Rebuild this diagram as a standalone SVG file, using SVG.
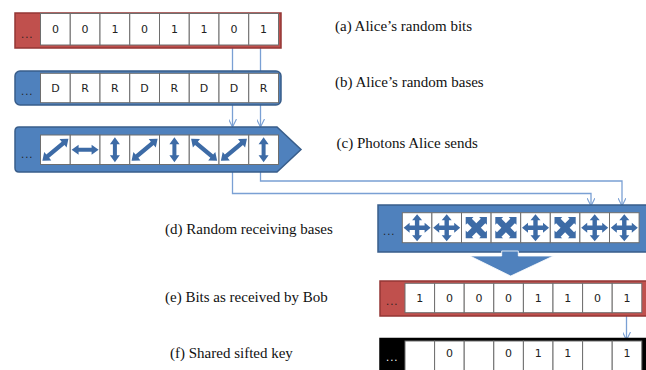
<svg xmlns="http://www.w3.org/2000/svg" width="646" height="370" viewBox="0 0 646 370">
  <style>
    .red { fill: #c0504d; stroke: #943634; stroke-width: 1.5; }
    .blue { fill: #4f81bd; stroke: #385d8a; stroke-width: 1.5; }
    .blk { fill: #000; stroke: #000; stroke-width: 1.5; }
    .cell { fill: #fff; stroke: #6e6e6e; stroke-width: 1; }
    .val { font-family: "DejaVu Sans", Verdana, sans-serif; font-size: 11px; fill: #222; text-anchor: middle; }
    .dots { font-family: "DejaVu Sans", Verdana, sans-serif; font-size: 10px; fill: #222; letter-spacing: 1px; }
    .lbl { font-family: "Liberation Serif", "Times New Roman", serif; font-size: 15px; fill: #111; }
    .ph { fill: #3d6ba6; }
    .conn { fill: none; stroke: #7aa0d4; stroke-width: 1.3; }
  </style>
  <defs>
    <marker id="arr" viewBox="0 0 10 10" refX="10" refY="5" markerWidth="8" markerHeight="8" markerUnits="userSpaceOnUse" orient="auto">
      <path d="M0,0 L10,5 L0,10" fill="none" stroke="#7aa0d4" stroke-width="1.4"/>
    </marker>
    <!-- double-headed block arrows -->
    <path id="dbl" d="M0,-12.5 L5,-5.5 L2,-5.5 L2,5.5 L5,5.5 L0,12.5 L-5,5.5 L-2,5.5 L-2,-5.5 L-5,-5.5 Z"/>
    <path id="dblH" d="M0,-13.5 L5,-6.5 L2,-6.5 L2,6.5 L5,6.5 L0,13.5 L-5,6.5 L-2,6.5 L-2,-6.5 L-5,-6.5 Z"/>
    <path id="dblD" d="M0,-17 L5.5,-10 L2.2,-10 L2.2,10 L5.5,10 L0,17 L-5.5,10 L-2.2,10 L-2.2,-10 L-5.5,-10 Z"/>
    <!-- four-way cross arrows -->
    <path id="plus" d="M0,-13.5 L5,-7.5 L2.2,-7.5 L2.2,-2.2 L7.5,-2.2 L7.5,-5 L13.5,0 L7.5,5 L7.5,2.2 L2.2,2.2 L2.2,7.5 L5,7.5 L0,13.5 L-5,7.5 L-2.2,7.5 L-2.2,2.2 L-7.5,2.2 L-7.5,5 L-13.5,0 L-7.5,-5 L-7.5,-2.2 L-2.2,-2.2 L-2.2,-7.5 L-5,-7.5 Z"/>
    <path id="cross" d="M0,-15 L5.5,-9.5 L3.2,-9.5 L3.2,-3.2 L9.5,-3.2 L9.5,-5.5 L15,0 L9.5,5.5 L9.5,3.2 L3.2,3.2 L3.2,9.5 L5.5,9.5 L0,15 L-5.5,9.5 L-3.2,9.5 L-3.2,3.2 L-9.5,3.2 L-9.5,5.5 L-15,0 L-9.5,-5.5 L-9.5,-3.2 L-3.2,-3.2 L-3.2,-9.5 L-5.5,-9.5 Z" transform="rotate(45)"/>
  </defs>

  <!-- connectors -->
  <g id="connectors">
    <path class="conn" d="M232.5,48 V71"/>
    <path class="conn" d="M260.5,48 V71"/>
    <path class="conn" d="M232.5,105 V127" marker-end="url(#arr)"/>
    <path class="conn" d="M260.5,105 V127" marker-end="url(#arr)"/>
    <path class="conn" d="M232.5,172 V193.5 H591 V206" marker-end="url(#arr)"/>
    <path class="conn" d="M260.5,172 V181 H622 V206" marker-end="url(#arr)"/>
    <path class="conn" d="M626.5,316 V340" marker-end="url(#arr)"/>
  </g>

  <!-- (a) Alice's random bits -->
  <g id="bits-a">
    <rect class="red" x="15" y="13" width="266" height="35"/>
    <text class="dots" x="21" y="38">...</text>
    <rect class="cell" x="40.5" y="13.5" width="29.75" height="31.5"/>
    <rect class="cell" x="70.25" y="13.5" width="29.75" height="31.5"/>
    <rect class="cell" x="100" y="13.5" width="29.75" height="31.5"/>
    <rect class="cell" x="129.75" y="13.5" width="29.75" height="31.5"/>
    <rect class="cell" x="159.5" y="13.5" width="29.75" height="31.5"/>
    <rect class="cell" x="189.25" y="13.5" width="29.75" height="31.5"/>
    <rect class="cell" x="219" y="13.5" width="29.75" height="31.5"/>
    <rect class="cell" x="248.75" y="13.5" width="29.75" height="31.5"/>
    <text class="val" x="55.4" y="33">0</text>
    <text class="val" x="85.1" y="33">0</text>
    <text class="val" x="114.9" y="33">1</text>
    <text class="val" x="144.6" y="33">0</text>
    <text class="val" x="174.4" y="33">1</text>
    <text class="val" x="204.1" y="33">1</text>
    <text class="val" x="233.9" y="33">0</text>
    <text class="val" x="263.6" y="33">1</text>
  </g>
  <text class="lbl" x="335" y="31">(a) Alice’s random bits</text>

  <!-- (b) Alice's random bases -->
  <g id="bases-b">
    <rect class="blue" x="15" y="71" width="266" height="34" rx="5"/>
    <text class="dots" x="21" y="95">...</text>
    <rect class="cell" x="40.5" y="73.3" width="29.75" height="29.4"/>
    <rect class="cell" x="70.25" y="73.3" width="29.75" height="29.4"/>
    <rect class="cell" x="100" y="73.3" width="29.75" height="29.4"/>
    <rect class="cell" x="129.75" y="73.3" width="29.75" height="29.4"/>
    <rect class="cell" x="159.5" y="73.3" width="29.75" height="29.4"/>
    <rect class="cell" x="189.25" y="73.3" width="29.75" height="29.4"/>
    <rect class="cell" x="219" y="73.3" width="29.75" height="29.4"/>
    <rect class="cell" x="248.75" y="73.3" width="29.75" height="29.4"/>
    <text class="val" x="55.4" y="92">D</text>
    <text class="val" x="85.1" y="92">R</text>
    <text class="val" x="114.9" y="92">R</text>
    <text class="val" x="144.6" y="92">D</text>
    <text class="val" x="174.4" y="92">R</text>
    <text class="val" x="204.1" y="92">D</text>
    <text class="val" x="233.9" y="92">D</text>
    <text class="val" x="263.6" y="92">R</text>
  </g>
  <text class="lbl" x="335" y="87">(b) Alice’s random bases</text>

  <!-- (c) Photons Alice sends -->
  <g id="photons-c">
    <path class="blue" d="M19,127 H277 L301,149.5 L277,172 H19 Q15,172 15,168 V131 Q15,127 19,127 Z"/>
    <text class="dots" x="21" y="158">...</text>
    <rect class="cell" x="40.5" y="135" width="29.75" height="29.5"/>
    <rect class="cell" x="70.25" y="135" width="29.75" height="29.5"/>
    <rect class="cell" x="100" y="135" width="29.75" height="29.5"/>
    <rect class="cell" x="129.75" y="135" width="29.75" height="29.5"/>
    <rect class="cell" x="159.5" y="135" width="29.75" height="29.5"/>
    <rect class="cell" x="189.25" y="135" width="29.75" height="29.5"/>
    <rect class="cell" x="219" y="135" width="29.75" height="29.5"/>
    <rect class="cell" x="248.75" y="135" width="29.75" height="29.5"/>
    <use href="#dblD" class="ph" transform="translate(55.4,149.75) rotate(50)"/>
    <use href="#dblH" class="ph" transform="translate(85.1,149.75) rotate(90)"/>
    <use href="#dbl" class="ph" transform="translate(114.9,149.75)"/>
    <use href="#dblD" class="ph" transform="translate(144.6,149.75) rotate(50)"/>
    <use href="#dbl" class="ph" transform="translate(174.4,149.75)"/>
    <use href="#dblD" class="ph" transform="translate(204.1,149.75) rotate(-50)"/>
    <use href="#dblD" class="ph" transform="translate(233.9,149.75) rotate(50)"/>
    <use href="#dbl" class="ph" transform="translate(263.6,149.75)"/>
  </g>
  <text class="lbl" x="336.5" y="148">(c) Photons Alice sends</text>

  <!-- (d) Random receiving bases -->
  <g id="bases-d">
    <rect class="blue" x="378" y="205" width="270" height="47"/>
    <text class="dots" x="383" y="235">...</text>
    <rect class="cell" x="402.3" y="212.7" width="29.6" height="30"/>
    <rect class="cell" x="431.9" y="212.7" width="29.6" height="30"/>
    <rect class="cell" x="461.5" y="212.7" width="29.6" height="30"/>
    <rect class="cell" x="491.1" y="212.7" width="29.6" height="30"/>
    <rect class="cell" x="520.7" y="212.7" width="29.6" height="30"/>
    <rect class="cell" x="550.3" y="212.7" width="29.6" height="30"/>
    <rect class="cell" x="579.9" y="212.7" width="29.6" height="30"/>
    <rect class="cell" x="609.5" y="212.7" width="29.6" height="30"/>
    <use href="#plus" class="ph" transform="translate(417.1,227.7)"/>
    <use href="#plus" class="ph" transform="translate(446.7,227.7)"/>
    <use href="#cross" class="ph" transform="translate(476.3,227.7)"/>
    <use href="#cross" class="ph" transform="translate(505.9,227.7)"/>
    <use href="#plus" class="ph" transform="translate(535.5,227.7)"/>
    <use href="#cross" class="ph" transform="translate(565.1,227.7)"/>
    <use href="#plus" class="ph" transform="translate(594.7,227.7)"/>
    <use href="#plus" class="ph" transform="translate(624.3,227.7)"/>
  </g>
  <text class="lbl" x="165" y="234">(d) Random receiving bases</text>

  <!-- measurement arrow -->
  <g id="measure">
    <path d="M501.7,251 V256 H470 L510.7,276 L553.3,256 H518.3 V251 Z" fill="#4f81bd" stroke="#ffffff" stroke-width="0.8"/>
  </g>

  <!-- (e) Bits as received by Bob -->
  <g id="bits-e">
    <rect class="red" x="380" y="281" width="268" height="35"/>
    <text class="dots" x="386" y="305">...</text>
    <rect class="cell" x="405" y="283.3" width="29.6" height="29.4"/>
    <rect class="cell" x="434.6" y="283.3" width="29.6" height="29.4"/>
    <rect class="cell" x="464.2" y="283.3" width="29.6" height="29.4"/>
    <rect class="cell" x="493.8" y="283.3" width="29.6" height="29.4"/>
    <rect class="cell" x="523.4" y="283.3" width="29.6" height="29.4"/>
    <rect class="cell" x="553" y="283.3" width="29.6" height="29.4"/>
    <rect class="cell" x="582.6" y="283.3" width="29.6" height="29.4"/>
    <rect class="cell" x="612.2" y="283.3" width="29.6" height="29.4"/>
    <text class="val" x="419.8" y="301.5">1</text>
    <text class="val" x="449.4" y="301.5">0</text>
    <text class="val" x="479" y="301.5">0</text>
    <text class="val" x="508.6" y="301.5">0</text>
    <text class="val" x="538.2" y="301.5">1</text>
    <text class="val" x="567.8" y="301.5">1</text>
    <text class="val" x="597.4" y="301.5">0</text>
    <text class="val" x="627" y="301.5">1</text>
  </g>
  <text class="lbl" x="165" y="302">(e) Bits as received by Bob</text>

  <!-- (f) Shared sifted key -->
  <g id="key-f">
    <rect class="blk" x="380" y="338.5" width="268" height="36"/>
    <text class="dots" x="386" y="361" style="fill:#fff">...</text>
    <rect class="cell" x="405" y="341" width="29.6" height="32"/>
    <rect class="cell" x="434.6" y="341" width="29.6" height="32"/>
    <rect class="cell" x="464.2" y="341" width="29.6" height="32"/>
    <rect class="cell" x="493.8" y="341" width="29.6" height="32"/>
    <rect class="cell" x="523.4" y="341" width="29.6" height="32"/>
    <rect class="cell" x="553" y="341" width="29.6" height="32"/>
    <rect class="cell" x="582.6" y="341" width="29.6" height="32"/>
    <rect class="cell" x="612.2" y="341" width="29.6" height="32"/>
    <text class="val" x="449.4" y="357">0</text>
    <text class="val" x="508.6" y="357">0</text>
    <text class="val" x="538.2" y="357">1</text>
    <text class="val" x="567.8" y="357">1</text>
    <text class="val" x="627" y="357">1</text>
  </g>
  <text class="lbl" x="170" y="358">(f) Shared sifted key</text>
</svg>
